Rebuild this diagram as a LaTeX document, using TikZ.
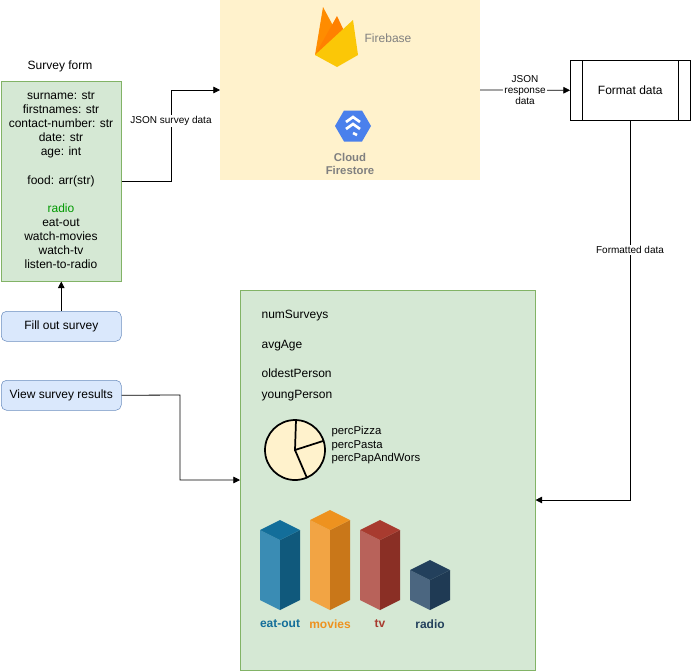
\documentclass[tikz,border=0pt]{standalone}
\usepackage{fontspec}
\setmainfont{Liberation Sans}
\usetikzlibrary{arrows.meta}
\definecolor{gfill}{HTML}{D5E8D4}\definecolor{gdraw}{HTML}{82B366}
\definecolor{bfill}{HTML}{DAE8FC}\definecolor{bdraw}{HTML}{6C8EBF}
\definecolor{yfill}{HTML}{FFF2CC}
\definecolor{eA}{HTML}{3A8CB4}\definecolor{eB}{HTML}{10597C}\definecolor{eC}{HTML}{136E9A}
\definecolor{mA}{HTML}{F2A444}\definecolor{mB}{HTML}{C97719}\definecolor{mC}{HTML}{EE921F}
\definecolor{tA}{HTML}{B8625A}\definecolor{tB}{HTML}{8A2F25}\definecolor{tC}{HTML}{A83B2F}
\definecolor{rA}{HTML}{4B6680}\definecolor{rB}{HTML}{1F3A54}\definecolor{rC}{HTML}{23405C}
\definecolor{fsblue}{HTML}{4A80EC}
\definecolor{greentxt}{HTML}{009900}
\tikzset{
  txt/.style={font=\fontsize{9}{10.5}\selectfont, inner sep=1pt},
  greenbox/.style={draw=gdraw, fill=gfill},
  bluebox/.style={draw=bdraw, fill=bfill, rounded corners=4pt, minimum width=90pt, minimum height=22.5pt, font=\fontsize{9}{10.5}\selectfont},
  arr/.style={-{Triangle[length=5pt,width=5pt]}, line width=0.6pt},
  lbl/.style={font=\fontsize{7.5}{8.5}\selectfont, fill=white, inner sep=1pt, align=center},
}
\newcommand{\cubebar}[5]{% x, topy, front, side, top
  \fill[#3] (#1,#2+10) -- (#1+20,#2+20) -- (#1+20,610) -- (#1,600) -- cycle;
  \fill[#4] (#1+20,#2+20) -- (#1+40,#2+10) -- (#1+40,600) -- (#1+20,610) -- cycle;
  \fill[#5] (#1,#2+10) -- (#1+20,#2) -- (#1+40,#2+10) -- (#1+20,#2+20) -- cycle;
}
\begin{document}
\begin{tikzpicture}[x=0.75pt,y=-0.75pt]
\useasboundingbox (0,0) rectangle (691,671);
% Firebase panel
\fill[yfill] (220,0) rectangle (480,180);
\coordinate (fbin) at (220,90);
\coordinate (fbout) at (480,90);
\fill[orange!90!yellow] (315,55) -- (323,7) -- (338,35) -- cycle;
\fill[orange] (315,55) -- (337,16) -- (345,33) -- cycle;
\fill[yellow!60!orange] (315,55) -- (353,20) -- (358,55) -- (337,67) -- cycle;
\node[txt, text=gray, font=\fontsize{9}{10.5}\selectfont] (fbt) at (388,38) {Firebase};
\fill[fsblue] (335,126) -- (344,110.5) -- (362,110.5) -- (371,126) -- (362,141.5) -- (344,141.5) -- cycle;
\draw[white, line width=2pt] (346,122) -- (353,117) -- (360,122);
\draw[white, line width=2pt] (346,129) -- (353,124) -- (360,129);
\draw[white, line width=2pt] (353,133) -- (357,135);
\node[txt, text=gray, font=\bfseries\fontsize{8.5}{10}\selectfont, align=center] (fst) at (350,164) {Cloud\\Firestore};
% Survey form
\node[txt] (sft) at (60,66) {Survey form};
\node[greenbox, minimum width=90pt, minimum height=150pt, anchor=north west] (form) at (1,81) {};
\node[txt, align=center] (formtxt) at (61,125) {surname: str\\firstnames: str\\contact-number: str\\date: str\\age: int};
\node[txt] (food) at (61,181) {food: arr(str)};
\node[txt, align=center] (acts) at (61,236) {\textcolor{greentxt}{radio}\\eat-out\\watch-movies\\watch-tv\\listen-to-radio};
\node[bluebox, anchor=north west] (fillsv) at (1,311) {Fill out survey};
\node[bluebox, anchor=north west] (view) at (1,380) {View survey results};
\draw[arr] (fillsv.north) -- (form.south);
% Format data
\node[draw, fill=white, minimum width=90pt, minimum height=45pt, anchor=north west, font=\fontsize{9}{10.5}\selectfont] (fmt) at (570,60) {Format data};
\draw (582,60) -- (582,120) (678,60) -- (678,120);
% Results box
\node[greenbox, minimum width=221.25pt, minimum height=285pt, anchor=north west] (res) at (240,290) {};
\node[txt, anchor=west] (n1) at (260,316) {numSurveys};
\node[txt, anchor=west] (n2) at (260,346) {avgAge};
\node[txt, anchor=west] (n3) at (260,373) {oldestPerson};
\node[txt, anchor=west] (n4) at (260,396) {youngPerson};
\draw[fill=yfill, line width=1.3pt] (295,450) circle (30);
\draw[line width=1.3pt] (296,420) -- (295,450) -- (323,441) (295,450) -- (307,478);
\node[txt, anchor=north west, align=left, font=\fontsize{8.5}{10}\selectfont] (pl) at (330,425) {percPizza\\percPasta\\percPapAndWors};
\cubebar{260}{520}{eA}{eB}{eC}
\cubebar{310}{510}{mA}{mB}{mC}
\cubebar{360}{520}{tA}{tB}{tC}
\cubebar{410}{560}{rA}{rB}{rC}
\node[txt, text=eC, font=\bfseries\fontsize{9}{10.5}\selectfont] (l1) at (280,624) {eat-out};
\node[txt, text=mC, font=\bfseries\fontsize{9}{10.5}\selectfont] (l2) at (330,624) {movies};
\node[txt, text=tC, font=\bfseries\fontsize{9}{10.5}\selectfont] (l3) at (380,624) {tv};
\node[txt, text=rC, font=\bfseries\fontsize{9}{10.5}\selectfont] (l4) at (430,624) {radio};
% Connectors
\draw[arr] (form.east |- food) -- (171,181) -- (171,90) -- (fbin);
\node[lbl] (jl) at (171,121) {JSON survey data};
\draw[arr] (fbout) -- (fmt.west);
\node[lbl] (rl) at (525,90) {JSON\\response\\data};
\draw[arr] (630,120) -- (630,500) -- (res.east |- 0,500);
\node[lbl] (fl) at (630,250) {Formatted data};
\draw[arr] (view.east) -- (180,395) -- (180,480) -- (res.west |- 0,480);
\end{tikzpicture}
\end{document}
